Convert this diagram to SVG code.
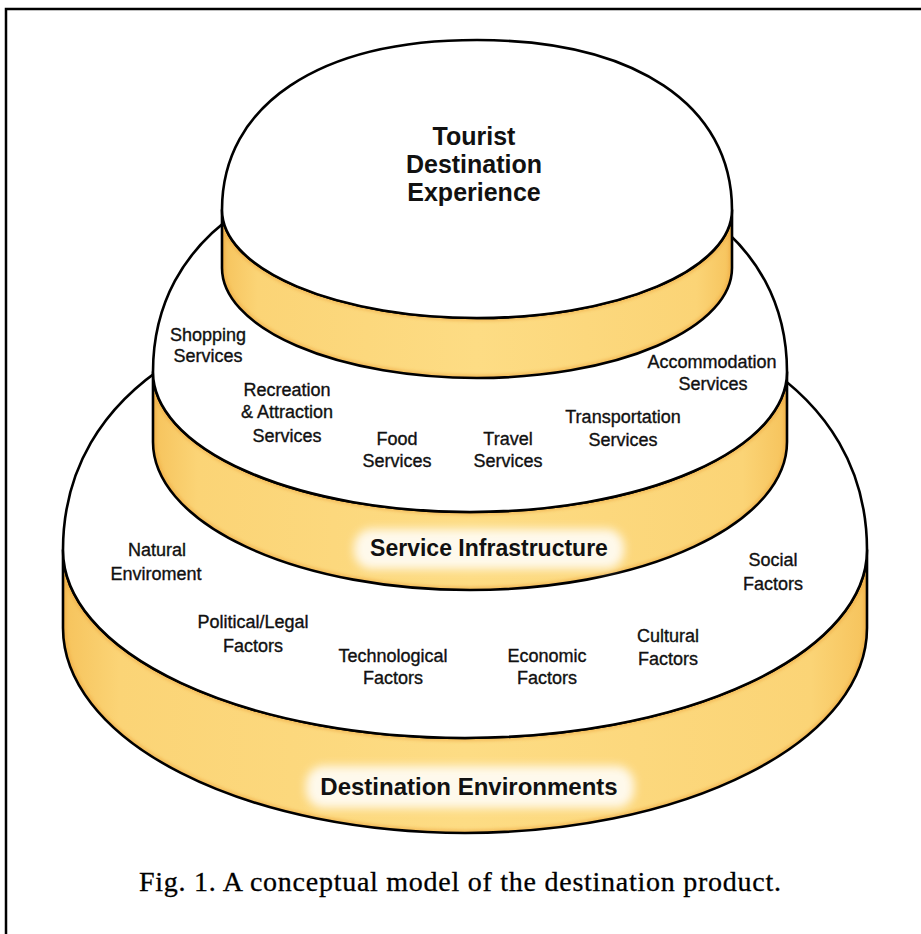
<svg xmlns="http://www.w3.org/2000/svg" width="921" height="934" viewBox="0 0 921 934">
  <style>
    .face { fill: #ffffff; stroke: #000000; stroke-width: 2.6; }
    .band { stroke: #000000; stroke-width: 2.6; stroke-linejoin: round; }
    .fringe { fill: none; stroke: #eea53c; stroke-width: 7; stroke-opacity: 0.5; }
    .lbl { font-family: "Liberation Sans", Arial, sans-serif; font-size: 18px; fill: #111111; stroke: #111111; stroke-width: 0.35; text-anchor: middle; }
    .ttl { font-family: "Liberation Sans", Arial, sans-serif; font-weight: bold; fill: #111111; text-anchor: middle; }
    .cap { font-family: "Liberation Serif", "Times New Roman", serif; font-size: 28px; fill: #000000; stroke: #000000; stroke-width: 0.3; text-anchor: middle; }
  </style>
  <defs>
    <linearGradient id="gold" x1="0" y1="0" x2="1" y2="0">
      <stop offset="0" stop-color="#f6c35c"/>
      <stop offset="0.07" stop-color="#fbd476"/>
      <stop offset="0.5" stop-color="#fddc84"/>
      <stop offset="0.93" stop-color="#fbd476"/>
      <stop offset="1" stop-color="#f6c35c"/>
    </linearGradient>
    <filter id="soft" x="-20%" y="-50%" width="140%" height="200%">
      <feGaussianBlur stdDeviation="5"/>
    </filter>
    <filter id="haze" x="-5%" y="-5%" width="110%" height="110%">
      <feGaussianBlur stdDeviation="1.5"/>
    </filter>
    <!-- side bands: vertical sides, lower rims drawn as half-ellipses -->
    <path id="band3" d="M63,550 V628 A402,205 0 0 0 867,628 V550 A402,188 0 0 1 63,550 Z"/>
    <path id="band2" d="M153,372 V442 A317,148 0 0 0 787,442 V372 A317,140 0 0 1 153,372 Z"/>
    <path id="band1" d="M222,210 V268 A255,110 0 0 0 732,268 V210 A255,108 0 0 1 222,210 Z"/>
    <clipPath id="clip3"><use href="#band3"/></clipPath>
    <clipPath id="clip2"><use href="#band2"/></clipPath>
    <clipPath id="clip1"><use href="#band1"/></clipPath>
  </defs>

  <rect width="921" height="934" fill="#ffffff"/>
  <!-- page frame -->
  <path d="M6,934 V9 H921" fill="none" stroke="#000000" stroke-width="2.5"/>

  <!-- base tier: destination environments -->
  <g id="destination-environments">
    <use href="#band3" fill="url(#gold)"/>
    <use href="#band3" class="fringe" clip-path="url(#clip3)" filter="url(#haze)"/>
    <use href="#band3" class="band" fill="none"/>
    <!-- top face: squarish upper half, elliptical lower half -->
    <path class="face" d="M63,550 C63,391 215.8,294 465,294 C714.2,294 867,391 867,550 A402,188 0 0 1 63,550 Z"/>
    <rect x="306" y="766" width="328" height="42" rx="18" fill="#ffffff" opacity="0.85" filter="url(#soft)"/>
    <text class="ttl" x="469" y="795" font-size="24">Destination Environments</text>
    <text class="lbl" x="157" y="556">Natural</text>
    <text class="lbl" x="156" y="580">Enviroment</text>
    <text class="lbl" x="253" y="628">Political/Legal</text>
    <text class="lbl" x="253" y="652">Factors</text>
    <text class="lbl" x="393" y="662">Technological</text>
    <text class="lbl" x="393" y="684">Factors</text>
    <text class="lbl" x="547" y="662">Economic</text>
    <text class="lbl" x="547" y="684">Factors</text>
    <text class="lbl" x="668" y="642">Cultural</text>
    <text class="lbl" x="668" y="665">Factors</text>
    <text class="lbl" x="773" y="566">Social</text>
    <text class="lbl" x="773" y="590">Factors</text>
  </g>

  <!-- middle tier: service infrastructure -->
  <g id="service-infrastructure">
    <use href="#band2" fill="url(#gold)"/>
    <use href="#band2" class="fringe" clip-path="url(#clip2)" filter="url(#haze)"/>
    <use href="#band2" class="band" fill="none"/>
    <path class="face" d="M153,372 C153,237 273.5,154 470,154 C666.5,154 787,237 787,372 A317,140 0 0 1 153,372 Z"/>
    <rect x="354" y="529" width="270" height="40" rx="18" fill="#ffffff" opacity="0.85" filter="url(#soft)"/>
    <text class="ttl" x="489" y="556" font-size="23">Service Infrastructure</text>
    <text class="lbl" x="208" y="341">Shopping</text>
    <text class="lbl" x="208" y="362">Services</text>
    <text class="lbl" x="287" y="396">Recreation</text>
    <text class="lbl" x="287" y="418">&amp; Attraction</text>
    <text class="lbl" x="287" y="442">Services</text>
    <text class="lbl" x="397" y="445">Food</text>
    <text class="lbl" x="397" y="467">Services</text>
    <text class="lbl" x="508" y="445">Travel</text>
    <text class="lbl" x="508" y="467">Services</text>
    <text class="lbl" x="623" y="423">Transportation</text>
    <text class="lbl" x="623" y="446">Services</text>
    <text class="lbl" x="712" y="368">Accommodation</text>
    <text class="lbl" x="713" y="390">Services</text>
  </g>

  <!-- top tier: tourist destination experience -->
  <g id="tourist-destination-experience">
    <use href="#band1" fill="url(#gold)"/>
    <use href="#band1" class="fringe" clip-path="url(#clip1)" filter="url(#haze)"/>
    <use href="#band1" class="band" fill="none"/>
    <path class="face" d="M222,210 C222,105 318.9,40 477,40 C635.1,40 732,105 732,210 A255,108 0 0 1 222,210 Z"/>
    <text class="ttl" x="474" y="145" font-size="25">Tourist</text>
    <text class="ttl" x="474" y="173" font-size="25">Destination</text>
    <text class="ttl" x="474" y="201" font-size="25">Experience</text>
  </g>

  <text class="cap" x="460" y="891" textLength="642" lengthAdjust="spacing">Fig. 1. A conceptual model of the destination product.</text>
</svg>
